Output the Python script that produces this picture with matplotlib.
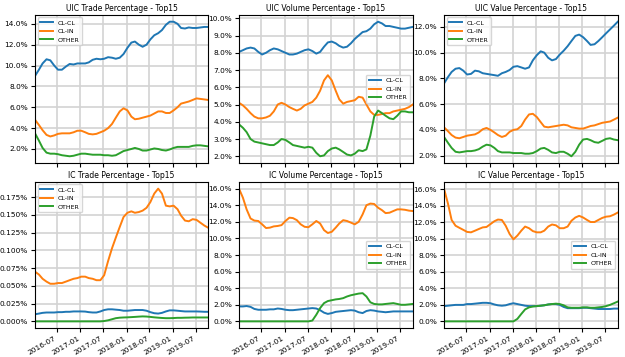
import numpy as np
import pandas as pd
import matplotlib
matplotlib.use("Agg")
import matplotlib.pyplot as plt
import matplotlib.dates as mdates
from matplotlib.ticker import PercentFormatter

dates = pd.date_range("2016-01-01", periods=46, freq="MS") + pd.Timedelta(days=7)
labels = ["CL-CL", "CL-IN", "OTHER"]
colors = ["#1f77b4", "#ff7f0e", "#2ca02c"]

# UIC Trade (%)
uic_trade_clcl = [9.0, 9.6, 10.2, 10.6, 10.5, 10.0, 9.6, 9.6, 9.9, 10.15, 10.1, 10.2, 10.2, 10.2, 10.3, 10.55,
                  10.65, 10.6, 10.65, 10.8, 10.75, 10.65, 10.75, 11.1, 11.7, 12.2, 12.3, 12.0, 11.8, 12.0, 12.5,
                  12.9, 13.1, 13.4, 13.9, 14.2, 14.2, 14.0, 13.6, 13.55, 13.65, 13.6, 13.6, 13.65, 13.7, 13.7]
uic_trade_clin = [4.8, 4.3, 3.8, 3.35, 3.2, 3.3, 3.45, 3.5, 3.5, 3.5, 3.6, 3.75, 3.75, 3.6, 3.45, 3.4, 3.45,
                  3.6, 3.75, 4.0, 4.4, 5.0, 5.6, 5.9, 5.7, 5.1, 4.85, 4.9, 5.0, 5.1, 5.2, 5.4, 5.6, 5.6, 5.45,
                  5.45, 5.7, 6.0, 6.35, 6.45, 6.55, 6.7, 6.85, 6.8, 6.75, 6.7]
uic_trade_other = [3.5, 2.8, 2.1, 1.65, 1.55, 1.55, 1.5, 1.4, 1.35, 1.3, 1.35, 1.45, 1.55, 1.55, 1.5, 1.45,
                   1.45, 1.45, 1.4, 1.4, 1.35, 1.4, 1.6, 1.8, 1.9, 2.0, 2.1, 2.0, 1.85, 1.85, 1.95, 2.05, 2.0,
                   1.9, 1.85, 1.95, 2.1, 2.2, 2.2, 2.2, 2.2, 2.3, 2.35, 2.35, 2.3, 2.25]

# UIC Volume (%)
uic_vol_clcl = [8.05, 8.15, 8.25, 8.3, 8.25, 8.05, 7.9, 8.0, 8.15, 8.25, 8.2, 8.1, 8.0, 7.9, 7.9, 7.95, 8.05,
                8.15, 8.2, 8.1, 7.95, 8.05, 8.35, 8.6, 8.65, 8.55, 8.4, 8.3, 8.35, 8.55, 8.8, 9.0, 9.2, 9.25,
                9.4, 9.65, 9.8, 9.7, 9.55, 9.55, 9.5, 9.45, 9.4, 9.4, 9.45, 9.5]
uic_vol_clin = [5.1, 4.95, 4.75, 4.5, 4.3, 4.2, 4.2, 4.25, 4.35, 4.6, 5.0, 5.1, 5.0, 4.85, 4.75, 4.65, 4.75,
                4.95, 5.05, 5.15, 5.4, 5.8, 6.4, 6.7, 6.4, 5.8, 5.3, 5.05, 5.15, 5.2, 5.25, 5.45, 5.4, 5.0,
                4.6, 4.4, 4.4, 4.45, 4.5, 4.5, 4.6, 4.65, 4.7, 4.75, 4.85, 5.0]
uic_vol_other = [3.85, 3.65, 3.4, 3.0, 2.85, 2.8, 2.75, 2.7, 2.65, 2.65, 2.8, 3.0, 2.95, 2.8, 2.65, 2.6, 2.55,
                 2.5, 2.55, 2.5, 2.2, 2.0, 2.05, 2.3, 2.45, 2.5, 2.4, 2.25, 2.1, 2.05, 2.15, 2.35, 2.3, 2.4,
                 3.2, 4.3, 4.65, 4.5, 4.35, 4.2, 4.15, 4.35, 4.6, 4.6, 4.55, 4.55]

# UIC Value (%)
uic_val_clcl = [7.6, 8.1, 8.5, 8.75, 8.8, 8.6, 8.3, 8.35, 8.6, 8.55, 8.4, 8.35, 8.3, 8.25, 8.2, 8.4, 8.5,
                8.65, 8.9, 8.95, 8.85, 8.75, 8.85, 9.4, 9.8, 10.1, 10.0, 9.6, 9.4, 9.5, 9.85, 10.15, 10.5,
                10.9, 11.3, 11.4, 11.2, 10.9, 10.6, 10.65, 10.9, 11.2, 11.5, 11.8, 12.1, 12.4]
uic_val_clin = [4.2, 3.9, 3.6, 3.4, 3.35, 3.45, 3.55, 3.6, 3.65, 3.8, 4.05, 4.15, 4.0, 3.8, 3.6, 3.45, 3.55,
                3.85, 4.0, 4.05, 4.3, 4.8, 5.2, 5.25, 5.0, 4.6, 4.25, 4.2, 4.25, 4.3, 4.35, 4.4, 4.35, 4.2,
                4.15, 4.1, 4.1, 4.2, 4.3, 4.35, 4.45, 4.55, 4.6, 4.65, 4.8, 4.95]
uic_val_other = [3.45, 3.0, 2.6, 2.3, 2.25, 2.3, 2.35, 2.35, 2.4, 2.5, 2.7, 2.85, 2.8, 2.6, 2.35, 2.25, 2.25,
                 2.25, 2.2, 2.2, 2.2, 2.15, 2.15, 2.2, 2.35, 2.55, 2.6, 2.45, 2.25, 2.2, 2.3, 2.3, 2.15, 1.95,
                 2.3, 2.85, 3.25, 3.3, 3.2, 3.05, 3.0, 3.15, 3.3, 3.35, 3.25, 3.2]

# IC Trade (%)
ic_trade_clcl = [0.010, 0.011, 0.012, 0.0125, 0.0125, 0.0125, 0.013, 0.013, 0.0135, 0.0135, 0.014, 0.014,
                 0.014, 0.0138, 0.013, 0.0125, 0.0125, 0.014, 0.016, 0.017, 0.017, 0.0165, 0.016, 0.015,
                 0.015, 0.0155, 0.016, 0.016, 0.016, 0.015, 0.013, 0.0115, 0.011, 0.012, 0.014, 0.0155,
                 0.0155, 0.015, 0.0145, 0.014, 0.014, 0.014, 0.014, 0.0138, 0.0135, 0.0135]
ic_trade_clin = [0.070, 0.066, 0.060, 0.056, 0.053, 0.053, 0.054, 0.054, 0.056, 0.058, 0.060, 0.061, 0.063,
                 0.063, 0.061, 0.060, 0.058, 0.058, 0.065, 0.085, 0.103, 0.118, 0.133, 0.147, 0.153, 0.155,
                 0.153, 0.154, 0.156, 0.160, 0.168, 0.180, 0.187, 0.180, 0.163, 0.162, 0.163, 0.158, 0.149,
                 0.142, 0.141, 0.144, 0.143, 0.139, 0.135, 0.132]
ic_trade_other = [0, 0, 0, 0, 0, 0, 0, 0, 0, 0, 0, 0, 0, 0, 0, 0, 0, 0, 0.0005, 0.0015, 0.003, 0.0045,
                  0.0052, 0.0055, 0.0057, 0.006, 0.0063, 0.0067, 0.007, 0.0068, 0.0063, 0.0057, 0.0052,
                  0.0048, 0.0045, 0.0045, 0.0047, 0.005, 0.005, 0.0052, 0.0053, 0.0055, 0.0055, 0.0055,
                  0.0055, 0.0055]

# IC Volume (%)
ic_vol_clcl = [1.8, 1.8, 1.85, 1.75, 1.5, 1.4, 1.4, 1.4, 1.45, 1.45, 1.55, 1.5, 1.4, 1.35, 1.35, 1.4, 1.45,
               1.5, 1.55, 1.6, 1.55, 1.35, 1.05, 0.9, 1.0, 1.15, 1.2, 1.25, 1.3, 1.35, 1.3, 1.1, 1.0, 1.25,
               1.35, 1.3, 1.2, 1.15, 1.1, 1.15, 1.2, 1.2, 1.2, 1.2, 1.2, 1.2]
ic_vol_clin = [16.0, 14.9, 13.5, 12.4, 12.15, 12.1, 11.7, 11.25, 11.3, 11.45, 11.5, 11.6, 12.1, 12.5, 12.45,
               12.2, 11.7, 11.4, 11.35, 11.7, 12.1, 11.8, 11.0, 10.65, 10.8, 11.3, 11.8, 12.2, 12.1, 11.9,
               11.7, 12.0, 12.9, 14.0, 14.2, 14.15, 13.7, 13.4, 13.05, 13.1, 13.3, 13.5, 13.5, 13.45, 13.35,
               13.3]
ic_vol_other = [0, 0, 0, 0, 0, 0, 0, 0, 0, 0, 0, 0, 0, 0, 0, 0, 0, 0, 0, 0.1, 0.8, 1.6, 2.2, 2.45, 2.55,
                2.65, 2.7, 2.8, 3.0, 3.15, 3.25, 3.35, 3.4, 3.0, 2.3, 2.1, 2.05, 2.05, 2.1, 2.15, 2.2, 2.1,
                2.0, 2.0, 2.05, 2.1]

# IC Value (%)
ic_val_clcl = [1.85, 1.9, 1.95, 2.0, 2.0, 2.0, 2.1, 2.1, 2.15, 2.2, 2.25, 2.25, 2.2, 2.05, 1.95, 1.9, 1.95,
               2.1, 2.2, 2.1, 2.0, 1.9, 1.85, 1.85, 1.85, 1.9, 1.95, 2.05, 2.1, 2.1, 2.0, 1.75, 1.6, 1.6,
               1.6, 1.6, 1.65, 1.65, 1.6, 1.55, 1.5, 1.5, 1.5, 1.5, 1.55, 1.55]
ic_val_clin = [16.1, 14.3, 12.3, 11.6, 11.35, 11.1, 10.85, 10.8, 11.0, 11.2, 11.4, 11.45, 11.8, 12.15, 12.35,
               12.3, 11.6, 10.6, 9.95, 10.4, 11.0, 11.5, 11.3, 10.95, 10.8, 10.8, 11.0, 11.5, 11.75, 11.65,
               11.3, 11.3, 11.5, 12.2, 12.6, 12.8, 12.6, 12.3, 12.05, 12.05, 12.3, 12.55, 12.7, 12.75,
               12.95, 13.2]
ic_val_other = [0, 0, 0, 0, 0, 0, 0, 0, 0, 0, 0, 0, 0, 0, 0, 0, 0, 0, 0, 0.3, 0.9, 1.45, 1.7, 1.8, 1.85,
                1.9, 1.95, 2.05, 2.1, 2.15, 2.1, 1.95, 1.7, 1.65, 1.65, 1.65, 1.7, 1.7, 1.65, 1.65, 1.7,
                1.75, 1.85, 2.0, 2.2, 2.4]

panels = [
    ("UIC Trade Percentage - Top15", [uic_trade_clcl, uic_trade_clin, uic_trade_other], 1, "upper left"),
    ("UIC Volume Percentage - Top15", [uic_vol_clcl, uic_vol_clin, uic_vol_other], 1, "center right"),
    ("UIC Value Percentage - Top15", [uic_val_clcl, uic_val_clin, uic_val_other], 1, "upper left"),
    ("IC Trade Percentage - Top15", [ic_trade_clcl, ic_trade_clin, ic_trade_other], 3, "upper left"),
    ("IC Volume Percentage - Top15", [ic_vol_clcl, ic_vol_clin, ic_vol_other], 1, "center right"),
    ("IC Value Percentage - Top15", [ic_val_clcl, ic_val_clin, ic_val_other], 1, "center right"),
]

fig = plt.figure(figsize=(6.25, 3.57), dpi=100)
lefts = [0.056, 0.3824, 0.7104]
widths = [0.277, 0.278, 0.278]
rows = [(0.5434, 0.4146), (0.0812, 0.409)]

for i, (title, series, dec, loc) in enumerate(panels):
    r, c = divmod(i, 3)
    ax = fig.add_axes([lefts[c], rows[r][0], widths[c], rows[r][1]])
    for lab, col, vals in zip(labels, colors, series):
        ax.plot(dates, vals, color=col, lw=1.4, label=lab)
    ax.set_title(title, fontsize=5.5, pad=3)
    ax.set_xlim(dates[0], dates[-1])
    ax.yaxis.set_major_formatter(PercentFormatter(100, decimals=dec))
    ax.xaxis.set_major_locator(mdates.MonthLocator(bymonth=[1, 7]))
    ax.xaxis.set_major_formatter(mdates.DateFormatter("%Y-%m"))
    ax.grid(True, color="#d3d3d3", lw=1.2)
    ax.set_axisbelow(True)
    ax.tick_params(labelsize=5.3, length=3, pad=2)
    if r == 0:
        ax.tick_params(labelbottom=False)
    else:
        for t in ax.get_xticklabels():
            t.set_rotation(30)
            t.set_ha("right")
    ax.legend(loc=loc, fontsize=4.5, handlelength=2.0, borderpad=0.45, labelspacing=0.5,
              handletextpad=0.7, borderaxespad=0.4)

fig.savefig("out.png", dpi=100)
